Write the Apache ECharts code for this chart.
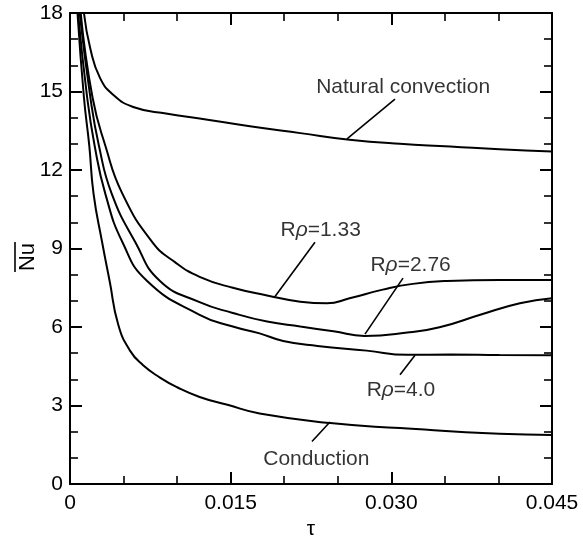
<!DOCTYPE html>
<html><head><meta charset="utf-8">
<script src="https://cdn.jsdelivr.net/npm/echarts@6/dist/echarts.min.js"></script>
<style>html,body{margin:0;padding:0;background:#fff}#c{width:583px;height:545px}</style>
</head><body><div id="c"></div><script>
// ---- data ----
const xTickValues = [0, 0.015, 0.030, 0.045];
const yTickValues = [0, 3, 6, 9, 12, 15, 18];

const natX = [0.0013, 0.0019, 0.0028, 0.0040, 0.0059, 0.0091, 0.0121, 0.0168, 0.0215, 0.0261, 0.0308, 0.0355, 0.0401, 0.045];
const natY = [18, 16.63, 15.52, 14.89, 14.41, 14.15, 13.97, 13.67, 13.41, 13.16, 13.0, 12.9, 12.79, 12.71];

const r133X = [0.0010, 0.0021, 0.0033, 0.0049, 0.0077, 0.0098, 0.0121, 0.0152, 0.0184, 0.0215, 0.0240, 0.0261, 0.0292, 0.0320, 0.0352, 0.0401, 0.045];
const r133Y = [18, 14.78, 12.93, 11.09, 9.24, 8.48, 7.92, 7.50, 7.21, 6.97, 6.91, 7.10, 7.43, 7.65, 7.76, 7.80, 7.80];

const r276X = [0.0009, 0.0019, 0.0027, 0.0039, 0.0061, 0.0084, 0.0121, 0.0152, 0.0184, 0.0215, 0.0246, 0.0275, 0.0317, 0.0345, 0.0383, 0.0420, 0.045];
const r276Y = [18, 14.78, 12.93, 11.09, 9.24, 7.76, 6.95, 6.54, 6.21, 6.02, 5.84, 5.66, 5.80, 5.99, 6.47, 6.91, 7.10];

const r40X = [0.00075, 0.0016, 0.0023, 0.0033, 0.0049, 0.0072, 0.0121, 0.0152, 0.0177, 0.0199, 0.0231, 0.0277, 0.0315, 0.0355, 0.0401, 0.045];
const r40Y = [18, 14.78, 12.93, 11.09, 9.24, 7.76, 6.47, 6.02, 5.76, 5.47, 5.28, 5.10, 4.94, 4.95, 4.93, 4.92];

const condX = [0.0007, 0.0013, 0.0018, 0.0022, 0.0030, 0.0037, 0.0045, 0.0056, 0.0068, 0.0084, 0.0100, 0.0121, 0.0147, 0.0177, 0.0243, 0.0308, 0.0401, 0.045];
const condY = [18, 14.78, 12.93, 11.09, 9.24, 7.76, 6.10, 5.10, 4.55, 4.07, 3.70, 3.33, 3.03, 2.70, 2.33, 2.14, 1.92, 1.88];

// annotations (data coordinates)
const annLabels = ['Natural convection', '{n|R}{r|ρ}{n|=1.33}', '{n|R}{r|ρ}{n|=2.76}', '{n|R}{r|ρ}{n|=4.0}', 'Conduction'];
const annAnchors = [[0.0311, 15.16], [0.0234, 9.70], [0.0318, 8.38], [0.0309, 3.58], [0.0230, 0.96]];
const annPointers = [
  [[0.02586, 13.19], [0.03034, 14.71]],
  [[0.01914, 7.17], [0.02287, 9.24]],
  [[0.02754, 5.73], [0.03109, 7.87]],
  [[0.03221, 4.92], [0.03081, 4.18]],
  [[0.02427, 2.37], [0.02259, 1.63]]
];

// ---- chart ----
const FONT = '"Liberation Sans", Arial, Helvetica, sans-serif';
const zip = (xs, ys) => xs.map((v, i) => [v, ys[i]]);
const curves = [[natX, natY], [r133X, r133Y], [r276X, r276Y], [r40X, r40Y], [condX, condY]];

const axisCommon = {
  type: 'value',
  splitLine: { show: false },
  axisLine: { show: true, onZero: false, lineStyle: { color: '#000', width: 2 } },
  axisTick: { show: true, inside: true, length: 12, lineStyle: { color: '#000', width: 2 } },
  minorTick: { show: true, splitNumber: 3, length: 8, lineStyle: { color: '#000', width: 1.6 } },
};
const fmtX = v => {
  const r = Math.round(v * 1000) / 1000;
  if (!xTickValues.some(t => Math.abs(t - r) < 1e-9)) return '';
  return r === 0 ? '0' : r.toFixed(3);
};

const series = [];
curves.forEach(([xs, ys]) => {
  series.push({
    type: 'line', data: zip(xs, ys), showSymbol: false, symbol: 'none',
    smooth: 0.5, clip: true, silent: true,
    lineStyle: { color: '#000', width: 2 }
  });
});
annPointers.forEach(p => {
  series.push({
    type: 'line', data: p, symbol: 'none', silent: true,
    lineStyle: { color: '#000', width: 1.6 }
  });
});
series.push({
  type: 'scatter', silent: true, symbolSize: 1, itemStyle: { color: 'rgba(0,0,0,0)' },
  data: annAnchors.map((a, i) => ({ value: a, label: { formatter: annLabels[i] } })),
  label: {
    show: true, position: 'inside', color: '#000', fontSize: 21, fontFamily: FONT,
    rich: {
      n: { fontSize: 21, fontFamily: FONT, color: '#000' },
      r: { fontSize: 21, fontFamily: FONT, fontStyle: 'italic', color: '#000' }
    }
  }
});

const chart = echarts.init(document.getElementById('c'), null, { renderer: 'canvas' });
chart.setOption({
  animation: false,
  backgroundColor: '#fff',
  grid: { left: 70, right: 31, top: 13, bottom: 45, containLabel: false },
  xAxis: [
    Object.assign({}, axisCommon, {
      position: 'bottom', min: 0, max: 0.045, interval: 0.015,
      axisLabel: { formatter: fmtX, color: '#000', fontSize: 21, fontFamily: FONT, margin: 9 },
      name: 'τ', nameLocation: 'middle', nameGap: 17,
      nameTextStyle: { color: '#000', fontSize: 21, fontFamily: FONT }
    }),
    Object.assign({}, axisCommon, {
      position: 'top', min: 0, max: 0.045, interval: 0.015,
      axisLabel: { show: false }
    })
  ],
  yAxis: [
    Object.assign({}, axisCommon, {
      position: 'left', min: 0, max: 18, interval: 3,
      axisLabel: { color: '#000', fontSize: 21, fontFamily: FONT, margin: 7,
        formatter: v => yTickValues.includes(v) ? String(v) : '' }
    }),
    Object.assign({}, axisCommon, {
      position: 'right', min: 0, max: 18, interval: 3,
      axisLabel: { show: false }
    })
  ],
  series: series,
  graphic: [{
    type: 'group', x: 28, y: 257, rotation: Math.PI / 2,
    children: [
      { type: 'text', style: { text: 'Nu', x: 0, y: 0, align: 'center', verticalAlign: 'middle',
          font: '22px ' + FONT, fill: '#000' } },
      { type: 'line', shape: { x1: -15, y1: -13, x2: 15, y2: -13 },
        style: { stroke: '#000', lineWidth: 1.6 } }
    ]
  }]
});
</script></body></html>
